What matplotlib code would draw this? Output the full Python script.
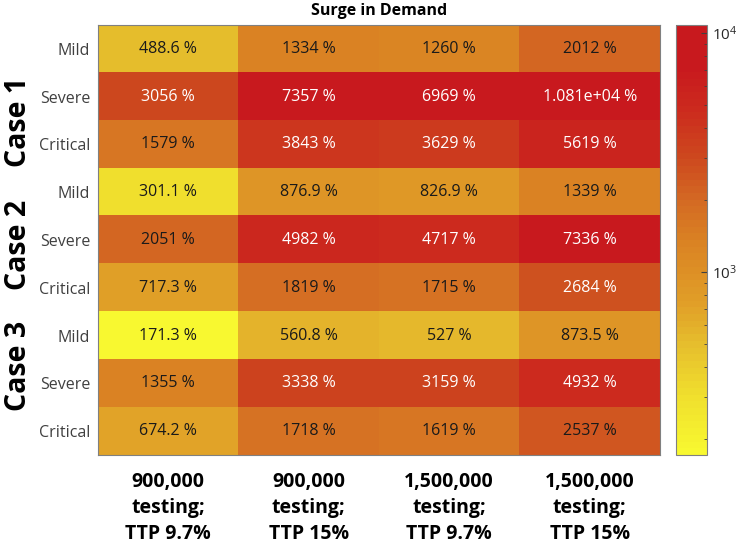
"""
Heatmap of the surge in demand per case / severity / testing scenario.
"""

import numpy as np
import matplotlib
matplotlib.use("Agg")
import matplotlib.pyplot as plt
from matplotlib.colors import LogNorm, LinearSegmentedColormap
from matplotlib.transforms import blended_transform_factory

plt.rcParams['font.family'] = ['Open Sans', 'DejaVu Sans']
plt.rcParams['mathtext.fontset'] = 'custom'
plt.rcParams['mathtext.rm'] = 'Open Sans'

# data (percent surge in demand)
severity = ["Mild", "Severe", "Critical"]
cases = ["Case 1", "Case 2", "Case 3"]
scenarios = ["900,000\ntesting;\nTTP 9.7%", "900,000\ntesting;\nTTP 15%",
             "1,500,000\ntesting;\nTTP 9.7%", "1,500,000\ntesting;\nTTP 15%"]

case1 = [[488.6, 1334, 1260, 2012],
         [3056, 7357, 6969, 10810],
         [1579, 3843, 3629, 5619]]
case2 = [[301.1, 876.9, 826.9, 1339],
         [2051, 4982, 4717, 7336],
         [717.3, 1819, 1715, 2684]]
case3 = [[171.3, 560.8, 527, 873.5],
         [1355, 3338, 3159, 4932],
         [674.2, 1718, 1619, 2537]]

values = np.array(case1 + case2 + case3)
row_labels = severity * 3

# yellow -> orange -> red map, roughly as in the original
anchors = [(0.00, (248, 248, 48)), (0.136, (240, 222, 45)), (0.253, (230, 190, 45)),
           (0.345, (225, 160, 40)), (0.495, (218, 130, 35)), (0.594, (212, 105, 35)),
           (0.695, (205, 72, 30)), (0.81, (204, 42, 30)), (0.907, (200, 25, 30)),
           (1.00, (200, 25, 30))]
cmap = LinearSegmentedColormap.from_list(
    "surge", [(p, tuple(c / 255 for c in rgb)) for p, rgb in anchors], N=64)

fig = plt.figure(figsize=(7.38, 5.43), dpi=100)
ax = fig.add_axes([0.1328, 0.162, 0.7615, 0.7919])
cax = fig.add_axes([0.916, 0.162, 0.042, 0.7919])

norm = LogNorm(vmin=values.min(), vmax=values.max())
im = ax.imshow(values, cmap=cmap, norm=norm, aspect='auto')

for i in range(values.shape[0]):
    for j in range(values.shape[1]):
        v = values[i, j]
        col = 'white' if v > 2600 else '#1a1a1a'
        ax.text(j, i, '%.4g %%' % v, ha='center', va='center',
                fontsize=11.5, color=col)

ax.set_xticks(range(len(scenarios)))
ax.set_xticklabels(scenarios, fontsize=14, fontweight='bold', linespacing=1.42)
ax.set_yticks(range(len(row_labels)))
ax.set_yticklabels(row_labels, fontsize=11.5, color='#404040')
ax.tick_params(length=0, pad=5.5)
ax.tick_params(axis='x', pad=12)
for s in ax.spines.values():
    s.set_color('#808080')
    s.set_linewidth(0.8)

ax.set_title("Surge in Demand", fontsize=11.5, fontweight='bold', pad=7)

# case labels on the left
trans = blended_transform_factory(fig.transFigure, ax.transData)
for name, y in zip(cases, [1.53, 4.1, 6.63]):
    ax.text(0.025, y, name, transform=trans, rotation=90, ha='center',
            va='center', fontsize=20.5, fontweight='bold')

cb = fig.colorbar(im, cax=cax)
cb.outline.set_edgecolor('#808080')
cb.outline.set_linewidth(0.8)
cax.tick_params(which='both', direction='in', color='#404040',
                labelcolor='#262626', labelsize=11)
cax.tick_params(which='major', length=4)
cax.tick_params(which='minor', length=2)

fig.savefig("out.png", dpi=100)
